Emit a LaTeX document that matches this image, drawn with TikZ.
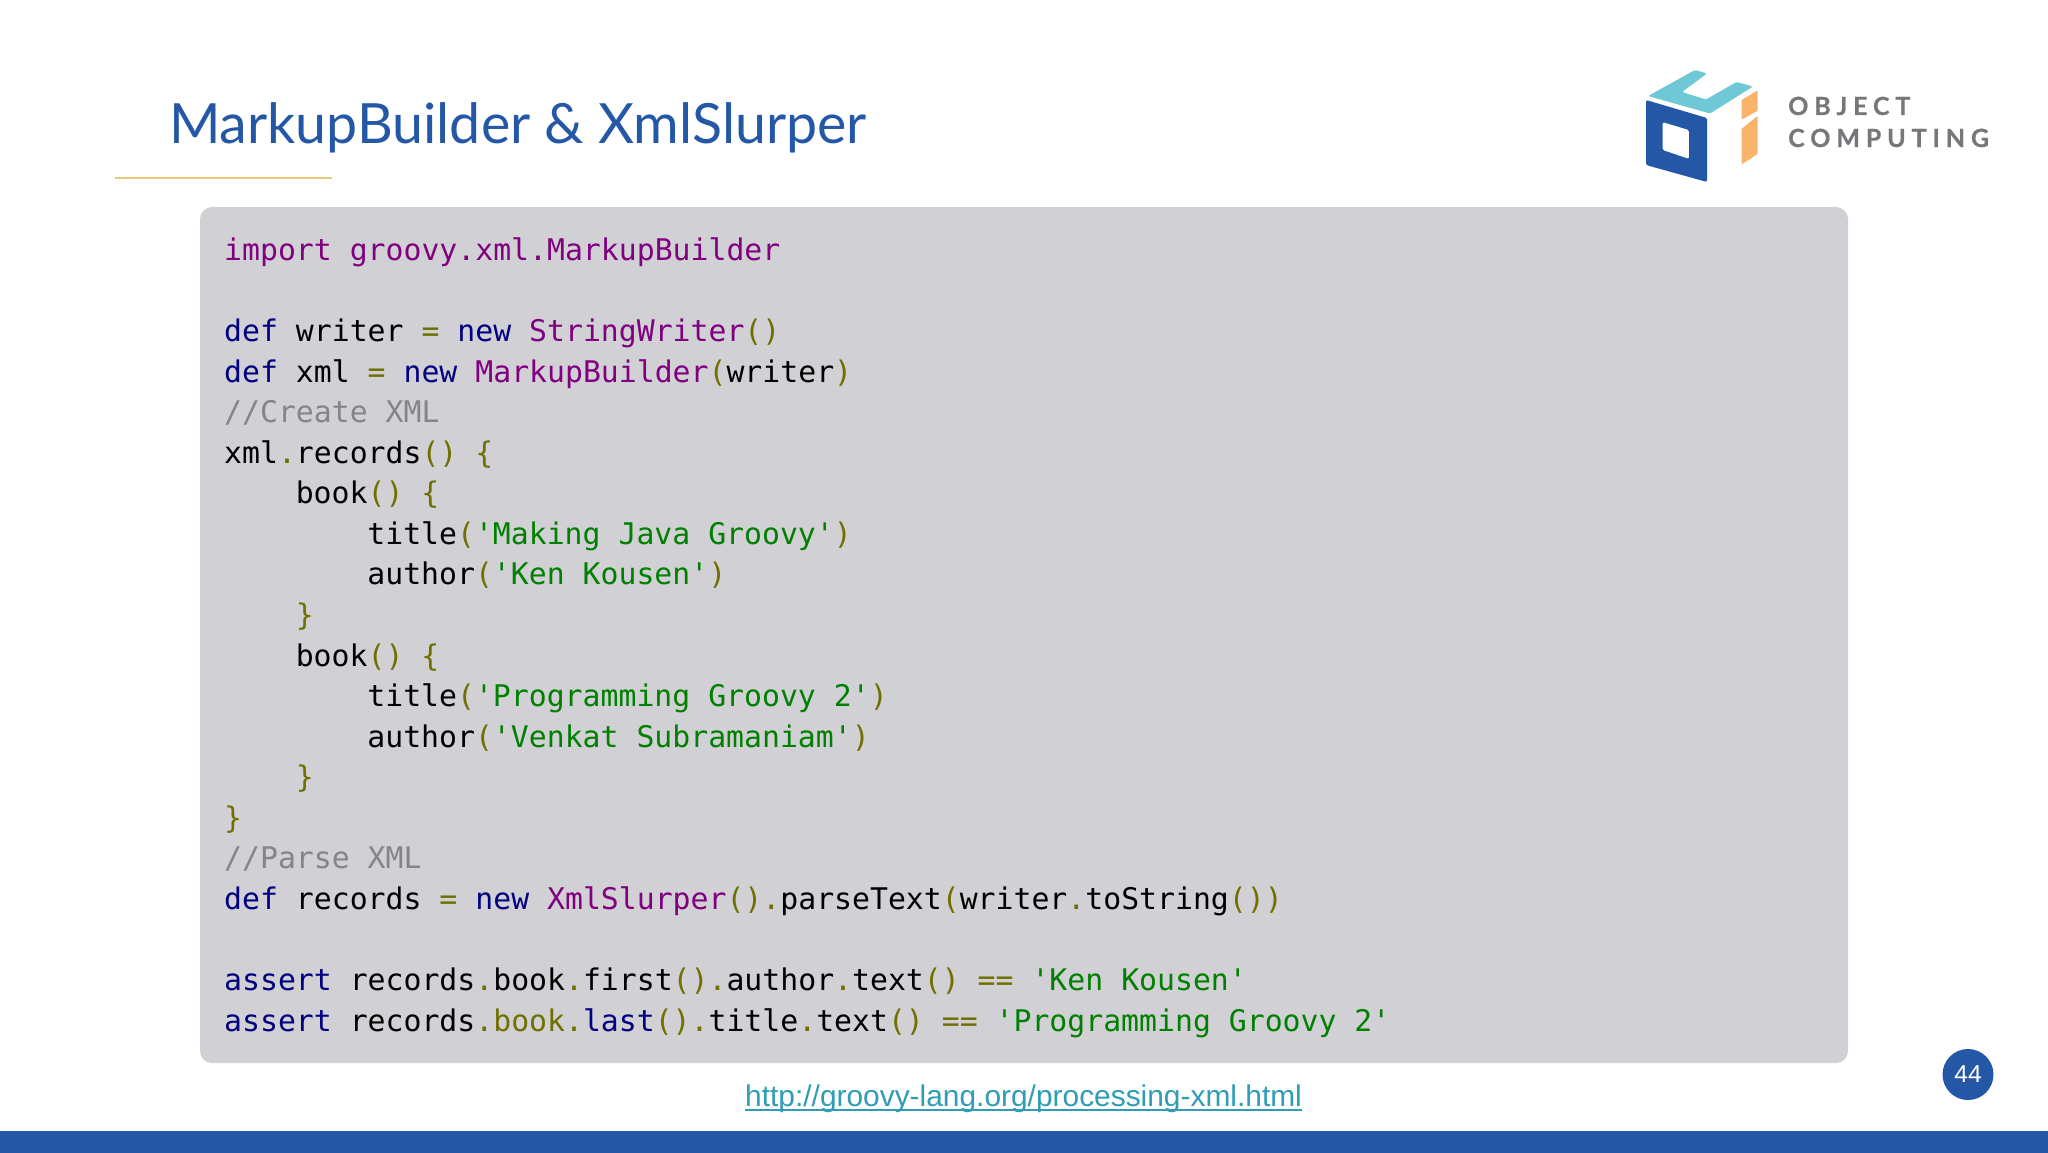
\documentclass[tikz,border=0pt]{standalone}
\usepackage{fontspec}
\setmainfont{Liberation Sans}
\newfontfamily\codefont{DejaVu Sans Mono}
\newfontfamily\titlefont{Lato}
\newfontfamily\logofont[LetterSpace=23.5,FakeBold=0.6]{Lato Bold}
\definecolor{oblue}{HTML}{2557A7}
\definecolor{ocyan}{HTML}{6EC8D6}
\definecolor{oorange}{HTML}{FBB26B}
\definecolor{ogold}{HTML}{EBC77E}
\definecolor{ogrey}{HTML}{D1D0D4}
\definecolor{ologo}{HTML}{77777B}
\definecolor{olink}{HTML}{2E9DB5}
\definecolor{cKw}{HTML}{000080}
\definecolor{cCl}{HTML}{800080}
\definecolor{cSt}{HTML}{008000}
\definecolor{cPu}{HTML}{707000}
\definecolor{cCm}{HTML}{858585}
\newcommand{\kw}[1]{\textcolor{cKw}{#1}}
\newcommand{\cl}[1]{\textcolor{cCl}{#1}}
\newcommand{\st}[1]{\textcolor{cSt}{#1}}
\newcommand{\pu}[1]{\textcolor{cPu}{#1}}
\newcommand{\cm}[1]{\textcolor{cCm}{#1}}
\tikzset{
  codeline/.style={anchor=base west,inner sep=0pt,font=\codefont\fontsize{29.8pt}{36pt}\selectfont,text=black},
  logotext/.style={anchor=base west,inner sep=0pt,text=ologo,font=\logofont\fontsize{25pt}{30pt}\selectfont},
}
\begin{document}
\begin{tikzpicture}[x=1pt,y=-1pt]
\useasboundingbox (0,0) rectangle (2048,1153);
\fill[white] (0,0) rectangle (2048,1153);
% title
\node[anchor=base west,inner sep=0pt,text=oblue,font=\titlefont\fontsize{55.5pt}{66pt}\selectfont] (title) at (169,143.5) {MarkupBuilder \& XmlSlurper};
\fill[ogold] (115,176.5) rectangle (332,178.5);
% logo
\fill[ocyan,rounded corners=1.5pt] (1648,96) -- (1695,70) -- (1707,73.5) -- (1682,92) -- (1706,99.5) -- (1736.5,82) -- (1753,86.5) -- (1710,113.5) -- cycle;
\fill[oblue,rounded corners=1.5pt,even odd rule] (1646,100) -- (1707,118) -- (1707,182) -- (1646,165) -- cycle
  (1662.5,122) -- (1689,130) -- (1689,159) -- (1662.5,150) -- cycle;
\fill[oorange,rounded corners=1pt] (1741.5,100) -- (1757.5,90.5) -- (1757.5,111) -- (1741.5,119.5) -- cycle;
\fill[oorange,rounded corners=1pt] (1741.5,129) -- (1757.5,116) -- (1757.5,154) -- (1741.5,164.5) -- cycle;
\node[logotext] (lg1) at (1788,115) {OBJECT};
\node[logotext] (lg2) at (1788,147) {COMPUTING};
% code box
\fill[ogrey,rounded corners=12pt] (200,207) rectangle (1848,1063);
\node[codeline] (l0) at (224,260.5) {\cl{import groovy.xml.MarkupBuilder}};
\node[codeline] (l2) at (224,341.6) {\kw{def} writer \pu{=} \kw{new} \cl{StringWriter}\pu{()}};
\node[codeline] (l3) at (224,382.2) {\kw{def} xml \pu{=} \kw{new} \cl{MarkupBuilder}\pu{(}writer\pu{)}};
\node[codeline] (l4) at (224,422.7) {\cm{//Create XML}};
\node[codeline] (l5) at (224,463.3) {xml\pu{.}records\pu{() \{}};
\node[codeline] (l6) at (295.6,503.8) {book\pu{() \{}};
\node[codeline] (l7) at (367.2,544.4) {title\pu{(}\st{'Making Java Groovy'}\pu{)}};
\node[codeline] (l8) at (367.2,584.9) {author\pu{(}\st{'Ken Kousen'}\pu{)}};
\node[codeline] (l9) at (295.6,625.5) {\pu{\}}};
\node[codeline] (l10) at (295.6,666) {book\pu{() \{}};
\node[codeline] (l11) at (367.2,706.6) {title\pu{(}\st{'Programming Groovy 2'}\pu{)}};
\node[codeline] (l12) at (367.2,747.1) {author\pu{(}\st{'Venkat Subramaniam'}\pu{)}};
\node[codeline] (l13) at (295.6,787.7) {\pu{\}}};
\node[codeline] (l14) at (224,828.2) {\pu{\}}};
\node[codeline] (l15) at (224,868.8) {\cm{//Parse XML}};
\node[codeline] (l16) at (224,909.3) {\kw{def} records \pu{=} \kw{new} \cl{XmlSlurper}\pu{().}parseText\pu{(}writer\pu{.}toString\pu{())}};
\node[codeline] (l18) at (224,990.4) {\kw{assert} records\pu{.}book\pu{.}first\pu{().}author\pu{.}text\pu{() ==} \st{'Ken Kousen'}};
\node[codeline] (l19) at (224,1031) {\kw{assert} records\pu{.book.}\kw{last}\pu{().}title\pu{.}text\pu{() ==} \st{'Programming Groovy 2'}};
% link
\node[anchor=base west,inner sep=0pt,text=olink,font=\fontsize{29.9pt}{34pt}\selectfont] (url) at (745,1106) {http://groovy-lang.org/processing-xml.html};
\draw[olink,line width=1.6pt] ([yshift=-4pt]url.base west) -- ([yshift=-4pt]url.base east);
% footer
\fill[oblue] (0,1131) rectangle (2048,1153);
\node[circle,fill=oblue,inner sep=0pt,minimum size=51pt,text=white,font=\fontsize{24.5pt}{28pt}\selectfont] (page) at (1968,1074.5) {44};
\end{tikzpicture}
\end{document}
